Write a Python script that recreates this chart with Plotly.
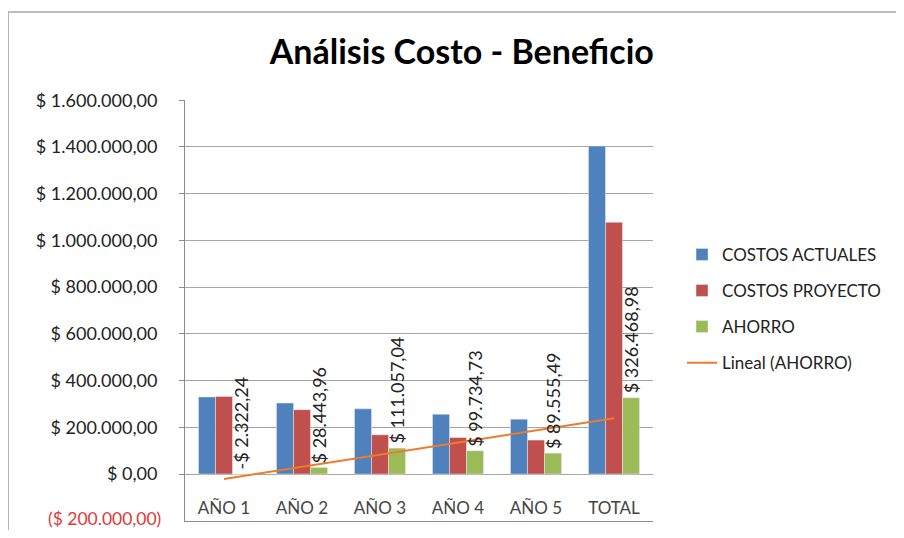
import numpy as np
import plotly.graph_objects as go

categorias = ["AÑO 1", "AÑO 2", "AÑO 3", "AÑO 4", "AÑO 5", "TOTAL"]
costos_actuales = [330000, 304000, 279000, 256000, 235000, 1404000]
costos_proyecto = [332322.24, 275556.04, 167942.96, 156265.27, 145444.51, 1077531.02]
ahorro = [-2322.24, 28443.96, 111057.04, 99734.73, 89555.49, 326468.98]

y_ticks = [-200000, 0, 200000, 400000, 600000, 800000, 1000000, 1200000, 1400000, 1600000]
y_tick_labels = ["($ 200.000,00)", "$ 0,00", "$ 200.000,00",
                 "$ 400.000,00", "$ 600.000,00", "$ 800.000,00", "$ 1.000.000,00",
                 "$ 1.200.000,00", "$ 1.400.000,00", "$ 1.600.000,00"]

FONT = "Lato"


def pesos(v):
    s = f"{abs(v):,.2f}".replace(",", "X").replace(".", ",").replace("X", ".")
    return ("-$ " if v < 0 else "$ ") + s


# linear trendline over the AHORRO series, like Excel's "Lineal"
idx = np.arange(1, len(ahorro) + 1)
pendiente, corte = np.polyfit(idx, ahorro, 1)
tendencia = pendiente * idx + corte

fig = go.Figure()
fig.add_trace(go.Bar(x=categorias, y=costos_actuales, name="COSTOS ACTUALES",
                     marker_color="#4F81BD", legendgroup="a"))
fig.add_trace(go.Bar(x=categorias, y=costos_proyecto, name="COSTOS PROYECTO",
                     marker_color="#C0504D", legendgroup="b"))
fig.add_trace(go.Bar(x=categorias, y=ahorro, name="AHORRO",
                     marker_color="#9BBB59", legendgroup="c"))
fig.add_trace(go.Scatter(x=categorias, y=tendencia, mode="lines", name="Lineal (AHORRO)",
                         line=dict(color="#EE7A2C", width=2), legendgroup="d"))

# rotated value labels over the AHORRO bars
for c, v in zip(categorias, ahorro):
    fig.add_annotation(x=c, y=max(v, 0), xref="x", yref="y", text=pesos(v),
                       textangle=-90, showarrow=False, xshift=17, yshift=2,
                       yanchor="bottom", xanchor="center",
                       font=dict(family=FONT, size=18, color="#222"))

# the bottom (negative) tick label is drawn in red; plotly hides it next to
# the inside category labels, so it goes in as an annotation
fig.add_annotation(x=0, xref="paper", y=y_ticks[0], yref="y", text=y_tick_labels[0],
                   showarrow=False, xanchor="right", yanchor="middle", xshift=-22, yshift=2,
                   font=dict(family=FONT, size=17.5, color="#E0393A"))

# outer chart frame: only top and left edges are inside the window
fig.add_shape(type="line", xref="paper", yref="paper", x0=-0.378, x1=1.65, y0=1.209, y1=1.209,
              line=dict(color="#A6A6A6", width=1.5), layer="below")
fig.add_shape(type="line", xref="paper", yref="paper", x0=-0.378, x1=-0.378, y0=-0.08, y1=1.209,
              line=dict(color="#A6A6A6", width=1.5), layer="below")

# page body has an 8px margin: figure shrunk so the page does not scroll
fig.update_layout(
    width=888, height=522,
    margin=dict(l=177, r=243, t=92, b=9, autoexpand=False),
    paper_bgcolor="white", plot_bgcolor="white",
    font=dict(family=FONT, size=17, color="#222"),
    title=dict(text="<b>Análisis Costo - Beneficio</b>", x=0.511, xref="container",
               xanchor="center", y=0.9157, yref="container", yanchor="middle",
               font=dict(family=FONT, size=34, color="black")),
    barmode="group", bargap=0.346, bargroupgap=0,
    showlegend=True,
    legend=dict(x=1.062, y=0.675, xanchor="left", yanchor="top", tracegroupgap=11,
                font=dict(family=FONT, size=17, color="#222"), itemwidth=30,
                bgcolor="rgba(0,0,0,0)"),
)
fig.update_xaxes(showgrid=False, showline=True, linecolor="#8C8C8C", linewidth=1,
                 ticks="", ticklabelposition="inside", ticklabelstandoff=4,
                 tickfont=dict(size=17), automargin=False)
fig.update_yaxes(range=[-201000, 1601000], tickvals=y_ticks[1:], ticktext=y_tick_labels[1:],
                 showgrid=True, gridcolor="#A6A6A6", gridwidth=1, zeroline=False,
                 showline=True, linecolor="#8C8C8C", linewidth=1,
                 ticks="outside", ticklen=5, tickcolor="#8C8C8C",
                 ticklabelstandoff=18, tickfont=dict(size=18), automargin=False)

fig.write_html("out.html")
